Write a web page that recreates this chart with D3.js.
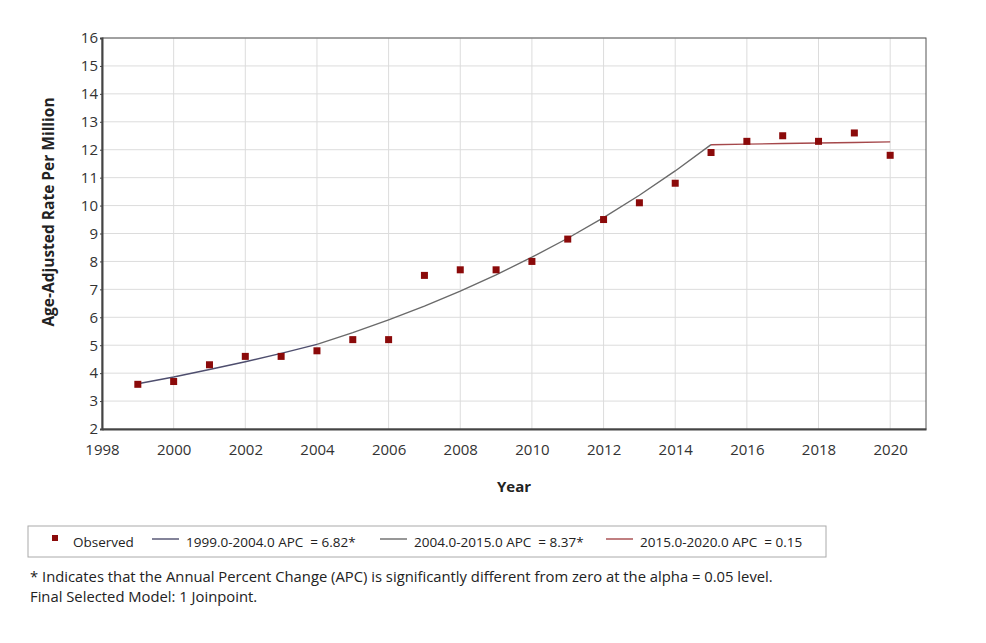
<!DOCTYPE html>
<html>
<head>
<meta charset="utf-8">
<script src="https://cdn.jsdelivr.net/npm/d3@7"></script>
<style>
  body { margin: 0; background: #fff; }
  text { font-family: "Open Sans", "Noto Sans", sans-serif; fill: #222; white-space: pre; }
</style>
</head>
<body>
<svg id="chart" width="986" height="643"></svg>
<script>
// observed rates
const years = [1999, 2000, 2001, 2002, 2003, 2004, 2005, 2006, 2007, 2008, 2009,
               2010, 2011, 2012, 2013, 2014, 2015, 2016, 2017, 2018, 2019, 2020];
const observed = [3.6, 3.7, 4.3, 4.6, 4.6, 4.8, 5.2, 5.2, 7.5, 7.7, 7.7,
                  8.0, 8.8, 9.5, 10.1, 10.8, 11.9, 12.3, 12.5, 12.3, 12.6, 11.8];

// joinpoint model segments
const seg1Years = [1999, 2000, 2001, 2002, 2003, 2004];
const seg1Vals  = [3.62, 3.86, 4.13, 4.41, 4.71, 5.03];
const seg2Years = [2004, 2005, 2006, 2007, 2008, 2009, 2010, 2011, 2012, 2013, 2014, 2015];
const seg2Vals  = [5.03, 5.45, 5.91, 6.40, 6.94, 7.52, 8.15, 8.83, 9.57, 10.37, 11.24, 12.18];
const seg3Years = [2015, 2016, 2017, 2018, 2019, 2020];
const seg3Vals  = [12.18, 12.20, 12.22, 12.24, 12.26, 12.28];

const legendLabels = ["Observed", "1999.0-2004.0 APC  = 6.82*", "2004.0-2015.0 APC  = 8.37*", "2015.0-2020.0 APC  = 0.15"];
const xTicks = d3.range(1998, 2021, 2);
const yTicks = d3.range(2, 17, 1);

const svg = d3.select("#chart"),
      margin = {top: 38, right: 60, bottom: 214, left: 102},
      width = 986 - margin.left - margin.right,
      height = 643 - margin.top - margin.bottom;

const chart = svg.append("g")
                 .attr("transform", `translate(${margin.left},${margin.top})`);

const x = d3.scaleLinear().domain([1998, 2021]).range([0, width]);
const y = d3.scaleLinear().domain([2, 16]).range([height, 0]);

// grid
chart.append("g").selectAll("line").data(xTicks.slice(1)).enter().append("line")
     .attr("x1", d => x(d)).attr("x2", d => x(d))
     .attr("y1", 0).attr("y2", height)
     .attr("stroke", "#dcdcdc").attr("stroke-width", 1);
chart.append("g").selectAll("line").data(yTicks.slice(1)).enter().append("line")
     .attr("x1", 0).attr("x2", width)
     .attr("y1", d => y(d)).attr("y2", d => y(d))
     .attr("stroke", "#dcdcdc").attr("stroke-width", 1);

// frame
chart.append("rect")
     .attr("width", width).attr("height", height)
     .attr("fill", "none").attr("stroke", "#555").attr("stroke-width", 1);

// axes
const xAxis = chart.append("g")
     .attr("transform", `translate(0,${height})`)
     .call(d3.axisBottom(x).tickValues(xTicks).tickFormat(d3.format("d")).tickSize(0).tickPadding(15));
const yAxis = chart.append("g")
     .call(d3.axisLeft(y).tickValues(yTicks).tickSize(2).tickPadding(2));
[xAxis, yAxis].forEach(a => {
    a.select(".domain").attr("stroke", "#444").attr("stroke-width", 2);
    a.selectAll("text").attr("font-size", 15).style("fill", "#333")
     .style("font-family", "'Open Sans', sans-serif");
    a.selectAll(".tick line").attr("stroke", "#444");
});
yAxis.attr("font-size", 15);
xAxis.attr("font-size", 15);

// model lines
const line = d3.line().x(d => x(d[0])).y(d => y(d[1]));
const segs = [
    {ys: seg1Years, vs: seg1Vals, color: "#4e4e6e"},
    {ys: seg2Years, vs: seg2Vals, color: "#6a6a6a"},
    {ys: seg3Years, vs: seg3Vals, color: "#a5484b"}
];
segs.forEach(s => {
    chart.append("path")
         .datum(s.ys.map((yr, i) => [yr, s.vs[i]]))
         .attr("d", line)
         .attr("fill", "none")
         .attr("stroke", s.color)
         .attr("stroke-width", 1.4);
});

// observed points
chart.selectAll(".pt")
     .data(years.map((yr, i) => [yr, observed[i]]))
     .enter().append("rect")
     .attr("class", "pt")
     .attr("x", d => x(d[0]) - 3.5)
     .attr("y", d => y(d[1]) - 3.5)
     .attr("width", 7).attr("height", 7)
     .attr("fill", "#8b0a0a");

// axis titles
svg.append("text")
   .attr("transform", "translate(54,212) rotate(-90)")
   .attr("text-anchor", "middle")
   .style("font-size", "15.5px").style("font-weight", "bold")
   .text("Age-Adjusted Rate Per Million");
svg.append("text")
   .attr("x", 514).attr("y", 492)
   .attr("text-anchor", "middle")
   .style("font-size", "15px").style("font-weight", "bold")
   .text("Year");

// legend
const legend = svg.append("g");
legend.append("rect")
      .attr("x", 28).attr("y", 526).attr("width", 798).attr("height", 31)
      .attr("fill", "#fff").attr("stroke", "#aaa").attr("stroke-width", 1);
legend.append("rect").attr("x", 52).attr("y", 535).attr("width", 6).attr("height", 6).attr("fill", "#8b0a0a");
const lx = [0, 152, 380, 606];
legendLabels.forEach((lab, i) => {
    if (i > 0) {
        legend.append("line")
              .attr("x1", lx[i]).attr("x2", lx[i] + 27)
              .attr("y1", 539).attr("y2", 539)
              .attr("stroke", segs[i - 1].color).attr("stroke-width", 1.4);
    }
    legend.append("text")
          .attr("x", i === 0 ? 73 : lx[i] + 34).attr("y", 547)
          .style("font-size", "13.5px")
          .text(lab);
});

// footnotes
svg.append("text").attr("x", 30).attr("y", 582).style("font-size", "14.8px")
   .text("* Indicates that the Annual Percent Change (APC) is significantly different from zero at the alpha = 0.05 level.");
svg.append("text").attr("x", 30).attr("y", 602).style("font-size", "14.8px")
   .text("Final Selected Model: 1 Joinpoint.");
</script>
</body>
</html>
